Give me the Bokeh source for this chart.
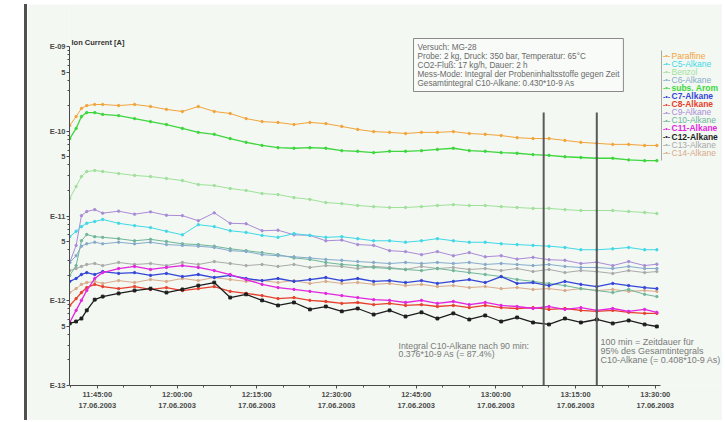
from bokeh.plotting import figure
from bokeh.models import FixedTicker, Label, LabelSet, ColumnDataSource, Div, Spacer
from bokeh.layouts import row
from bokeh.core.properties import value
from bokeh.embed import file_html
from bokeh.resources import INLINE

# ---------------- data ----------------
# sample times: minutes after measurement start (11:39:00, 17.06.2003)
minutes = [0.8, 2, 3, 4, 5.5, 7, 10, 13, 16, 19, 22, 25, 28, 31, 34, 37, 40, 43, 46, 49,
           52, 55, 58, 61, 64, 67, 70, 73, 76, 79, 82, 85, 88, 91, 94, 97, 100, 103, 106, 109, 111.3]

# ion currents in pA (1e-12 A)
paraffine = [117, 149, 186, 201, 207, 207, 201, 207, 196, 181, 171, 196, 171, 162, 141, 130, 127, 120, 127, 123,
             114, 105, 99, 97, 94, 97, 97, 99, 94, 92, 89, 84, 82, 82, 78, 74, 72, 70, 70, 68, 68]
c5_alkane = [5.7, 6.6, 7.5, 8.2, 8.6, 9.1, 8.2, 7.7, 7.3, 6.6, 6.0, 7.9, 7.5, 6.7, 6.4, 5.9, 5.6, 6.2, 5.9, 5.6,
             5.7, 5.4, 5.1, 5.1, 4.9, 5.1, 5.4, 5.1, 4.9, 4.9, 4.7, 4.6, 4.5, 4.4, 4.25, 4.0, 4.0, 4.1, 4.25, 4.0, 4.0]
benzol = [16.1, 22.3, 29.2, 33.5, 34.4, 33.5, 31.7, 30.1, 29.2, 27.7, 26.2, 23.5, 22.9, 21.1, 20.0, 18.4, 17.9, 16.5, 15.7, 14.4,
          14.0, 13.3, 12.9, 12.6, 12.6, 12.9, 13.3, 13.6, 13.3, 13.3, 12.9, 12.6, 12.3, 12.3, 11.9, 11.6, 11.6, 11.6, 11.3, 11.0, 10.7]
c6_alkane = [2.83, 3.4, 4.4, 4.7, 4.9, 4.7, 4.9, 4.7, 4.9, 4.6, 4.5, 4.4, 4.25, 3.9, 3.81, 3.5, 3.4, 3.3, 3.2, 3.07,
             3.0, 2.9, 2.83, 2.75, 2.83, 2.75, 2.83, 2.75, 2.83, 2.68, 2.75, 2.68, 2.6, 2.68, 2.54, 2.47, 2.47, 2.4, 2.54, 2.4, 2.4]
subs_arom = [82, 108, 149, 166, 166, 158, 153, 141, 130, 120, 108, 97, 92, 82, 74, 68, 64, 63, 64, 63,
             59, 58, 56, 58, 58, 59, 61, 63, 59, 58, 56, 55, 53, 52, 50, 49, 48, 48, 46, 45, 45]
c7_alkane = [1.69, 1.83, 2.04, 2.15, 2.04, 2.21, 2.1, 2.15, 1.99, 2.1, 1.93, 2.04, 1.88, 1.99, 1.83, 1.73, 1.83, 1.69, 1.78, 1.88,
             1.73, 1.83, 1.69, 1.73, 1.64, 1.73, 1.6, 1.69, 1.78, 1.64, 1.93, 1.6, 1.64, 1.51, 1.69, 1.56, 1.47, 1.6, 1.51, 1.43, 1.39]
c8_alkane = [0.88, 1.06, 1.25, 1.43, 1.56, 1.47, 1.39, 1.47, 1.36, 1.43, 1.32, 1.39, 1.47, 1.29, 1.22, 1.15, 1.06, 1.09, 1.01, 0.98,
             0.93, 0.954, 0.90, 0.93, 0.88, 0.90, 0.855, 0.88, 0.83, 0.88, 0.83, 0.81, 0.83, 0.79, 0.81, 0.77, 0.75, 0.77, 0.73, 0.71, 0.71]
c9_alkane = [2.83, 4.5, 10.1, 11.3, 11.9, 10.8, 11.4, 10.5, 11.2, 10.2, 10.1, 8.8, 10.9, 8.2, 8.1, 6.7, 6.8, 6.0, 5.9, 5.1,
             5.2, 4.6, 4.5, 3.9, 3.8, 3.5, 3.8, 3.4, 3.7, 3.3, 3.4, 3.1, 3.25, 3.05, 3.0, 2.75, 2.85, 2.6, 2.9, 2.6, 2.7]
c10_alkane = [1.99, 2.6, 5.1, 6.05, 5.7, 5.6, 5.4, 5.1, 5.3, 5.0, 4.7, 4.6, 4.4, 4.1, 3.9, 3.7, 3.5, 3.2, 3.07, 2.83,
              2.68, 2.6, 2.47, 2.4, 2.34, 2.27, 2.4, 2.27, 2.15, 2.04, 1.93, 1.78, 1.69, 1.6, 1.51, 1.39, 1.32, 1.25, 1.36, 1.19, 1.12]
c11_alkane = [0.554, 0.77, 1.01, 1.32, 1.83, 2.15, 2.4, 2.54, 2.34, 2.47, 2.6, 2.47, 2.27, 2.04, 1.78, 1.56, 1.43, 1.36, 1.29, 1.22,
              1.15, 1.09, 1.03, 1.01, 0.954, 1.01, 0.93, 0.98, 0.90, 0.954, 0.88, 0.855, 0.81, 0.855, 0.79, 0.83, 0.77, 0.81, 0.75, 0.79, 0.73]
c12_alkane = [0.54, 0.569, 0.617, 0.77, 1.03, 1.12, 1.22, 1.32, 1.39, 1.25, 1.36, 1.51, 1.64, 1.09, 1.19, 1.01, 0.88, 0.954, 0.79, 0.855,
              0.75, 0.81, 0.688, 0.77, 0.652, 0.73, 0.617, 0.71, 0.601, 0.67, 0.569, 0.635, 0.554, 0.525, 0.617, 0.554, 0.601, 0.54, 0.585, 0.525, 0.497]
c13_alkane = [2.27, 2.4, 2.54, 2.68, 2.75, 2.6, 2.83, 2.68, 2.75, 2.6, 2.83, 2.68, 2.9, 2.75, 2.6, 2.68, 2.54, 2.68, 2.47, 2.6,
              2.54, 2.4, 2.54, 2.47, 2.34, 2.54, 2.4, 2.47, 2.34, 2.4, 2.27, 2.4, 2.21, 2.34, 2.15, 2.27, 2.21, 2.1, 2.27, 2.15, 2.21]
c14_alkane = [1.25, 1.39, 1.56, 1.64, 1.69, 1.6, 1.73, 1.64, 1.78, 1.69, 1.83, 1.73, 1.88, 1.78, 1.69, 1.73, 1.64, 1.73, 1.6, 1.69,
              1.6, 1.64, 1.56, 1.6, 1.51, 1.56, 1.47, 1.51, 1.43, 1.47, 1.39, 1.43, 1.36, 1.39, 1.32, 1.39, 1.32, 1.36, 1.29, 1.32, 1.29]

series_names = ["Paraffine", "C5-Alkane", "Benzol", "C6-Alkane", "subs. Arom", "C7-Alkane", "C8-Alkane",
                "C9-Alkane", "C10-Alkane", "C11-Alkane", "C12-Alkane", "C13-Alkane", "C14-Alkane"]
series_values = [paraffine, c5_alkane, benzol, c6_alkane, subs_arom, c7_alkane, c8_alkane,
                 c9_alkane, c10_alkane, c11_alkane, c12_alkane, c13_alkane, c14_alkane]
series_colors = ["#f2a33a", "#3fd8e6", "#9fe09a", "#86aacb", "#3dd63d", "#3446d8", "#e8402e",
                 "#a98bd6", "#6fb59a", "#e326e0", "#1e1e1e", "#a9a9a9", "#d9aa8a"]
series_bold = [False, False, False, False, True, True, True, False, False, True, True, False, False]
draw_order = [2, 12, 11, 7, 8, 3, 1, 0, 4, 5, 6, 9, 10]

tick_minutes = [6, 21, 36, 51, 66, 81, 96, 111]
tick_labels = ["11:45:00\n17.06.2003", "12:00:00\n17.06.2003", "12:15:00\n17.06.2003", "12:30:00\n17.06.2003",
               "12:45:00\n17.06.2003", "13:00:00\n17.06.2003", "13:15:00\n17.06.2003", "13:30:00\n17.06.2003"]
minor_minutes = [1, 11, 16, 26, 31, 41, 46, 56, 61, 71, 76, 86, 91, 101, 106]
time_axis_span = (0.75, 112)

y_ticks = [1e-13, 5e-13, 1e-12, 5e-12, 1e-11, 5e-11, 1e-10, 5e-10, 1e-9]
y_labels = ["E-13", "5", "E-12", "5", "E-11", "5", "E-10", "5", "E-09"]
y_minor = [m * 10.0 ** e for e in range(-13, -9) for m in (2, 3, 4, 6, 7, 8, 9)]
current_axis_span = (1e-13, 1e-9)

marker_minutes = [90, 100]
marker_top = 1.66e-10

info_text = ("Versuch: MG-28\nProbe: 2 kg, Druck: 350 bar, Temperatur: 65°C\n"
             "CO2-Fluß: 17 kg/h, Dauer: 2 h\nMess-Mode: Integral der Probeninhaltsstoffe gegen Zeit\n"
             "Gesamtintegral C10-Alkane: 0.430*10-9 As")
note90 = "Integral C10-Alkane nach 90 min:\n0.376*10-9 As (= 87.4%)"
note100 = "100 min = Zeitdauer für\n95% des Gesamtintegrals\nC10-Alkane (= 0.408*10-9 As)"

# ---------------- layout helpers (page pixels -> data) ----------------
PX_PER_MIN = 5.313
X0_PAGE = 65.0      # page x of minute 0
TOP_PAGE = 46.0     # page y of 1e-9
DEC_PX = 84.75      # pixels per decade


def px_x(xp):
    return (xp - X0_PAGE) / PX_PER_MIN


def px_y(yp):
    return 10 ** (-9 - (yp - TOP_PAGE) / DEC_PX)


BG = "#f3f8f2"
FONT = "Liberation Sans"
FIG_LEFT = 27
FIG_TOP = 4
FIG_W = 695
FIG_H = 416

p = figure(width=FIG_W, height=FIG_H,
           x_range=(px_x(69), px_x(FIG_LEFT + FIG_W)), y_range=(1e-13, px_y(FIG_TOP)), y_axis_type="log",
           min_border_left=69 - FIG_LEFT, min_border_right=0, min_border_top=0,
           min_border_bottom=FIG_TOP + FIG_H - 385,
           output_backend="svg", toolbar_location=None, margin=(FIG_TOP, 0, 0, 0))
p.background_fill_color = BG
p.border_fill_color = BG
p.outline_line_color = None
p.grid.visible = False

for i in draw_order:
    ys = [v * 1e-12 for v in series_values[i]]
    w = 1.3 if series_bold[i] else 1.0
    p.line(minutes, ys, line_color=series_colors[i], line_width=w)
    p.scatter(minutes, ys, marker="square" if i == 10 else "circle", size=2.8 if i == 10 else 2.4,
              fill_color=series_colors[i], line_color=series_colors[i])

p.segment(x0=marker_minutes, x1=marker_minutes, y0=[1e-13] * 2, y1=[marker_top] * 2,
          line_color="#5a5a5a", line_width=2)

# axes
xa = p.xaxis[0]
xa.ticker = FixedTicker(ticks=tick_minutes, minor_ticks=minor_minutes)
xa.major_label_overrides = {t: l for t, l in zip(tick_minutes, tick_labels)}
xa.bounds = time_axis_span
ya = p.yaxis[0]
ya.ticker = FixedTicker(ticks=y_ticks, minor_ticks=y_minor)
ya.major_label_overrides = {t: l for t, l in zip(y_ticks, y_labels)}
ya.bounds = current_axis_span
for ax in (xa, ya):
    ax.axis_line_color = "#4a4a4a"
    ax.major_tick_line_color = "#4a4a4a"
    ax.minor_tick_line_color = "#4a4a4a"
    ax.major_tick_in = 0
    ax.major_tick_out = 3
    ax.minor_tick_in = 0
    ax.minor_tick_out = 2
    ax.major_label_text_font = FONT
    ax.major_label_text_font_style = "bold"
    ax.major_label_text_color = "#4a4a4a"
    ax.major_label_text_font_size = "7.5px"
    ax.major_label_standoff = 1
xa.major_label_text_line_height = 1.25

# y axis caption
p.add_layout(Label(x=px_x(71), y=px_y(42), text="Ion Current [A]", text_font=FONT,
                   text_font_size="7.5px", text_font_style="bold", text_color="#333333",
                   text_baseline="middle", text_align="left"))

# info box
p.add_layout(Label(x=px_x(413), y=px_y(38), text=info_text, text_font=FONT, text_font_size="8.2px",
                   text_color="#6a6a6a", text_baseline="top", text_align="left", text_line_height=1.0,
                   border_line_color="#8a8a8a", border_line_width=1, background_fill_color="#f8fbf8",
                   padding=4))

# notes
p.add_layout(Label(x=px_x(398), y=px_y(340), text=note90, text_font=FONT, text_font_size="8.8px",
                   text_color="#7a7a7a", text_baseline="top", text_align="left", text_line_height=0.88))
p.add_layout(Label(x=px_x(600), y=px_y(336), text=note100, text_font=FONT, text_font_size="9px",
                   text_color="#7a7a7a", text_baseline="top", text_align="left", text_line_height=0.9))

# legend (drawn in the free area at the right)
n = len(series_names)
leg_y = [px_y(55 + 8.1 * i) for i in range(n)]
p.segment(x0=[px_x(661)], x1=[px_x(661)], y0=[px_y(50)], y1=[px_y(160)], line_color="#aaaaaa", line_width=1)
leg_src = ColumnDataSource(dict(
    x=[px_x(666)] * n, xt=[px_x(671)] * n, y=leg_y,
    name=series_names, color=series_colors, mark=["-•-"] * n,
    style=["bold" if b else "normal" for b in series_bold]))
p.add_layout(LabelSet(x="x", y="y", text="mark", source=leg_src, text_color="color", text_font_size="7px",
                      text_font_style="bold", text_align="center", text_baseline="middle",
                      text_font=value(FONT)))
p.add_layout(LabelSet(x="xt", y="y", text="name", source=leg_src, text_color="color", text_font_size="8.5px",
                      text_font_style="style", text_align="left", text_baseline="middle",
                      text_font=value(FONT)))

layout = row(Spacer(width=24, height=FIG_H + FIG_TOP, margin=0),
             Div(text="", width=3, height=FIG_H, margin=(FIG_TOP, 0, 0, 0),
                 styles={"background-color": "#505050"}),
             p)

open("out.html", "w").write(file_html(layout, INLINE))
